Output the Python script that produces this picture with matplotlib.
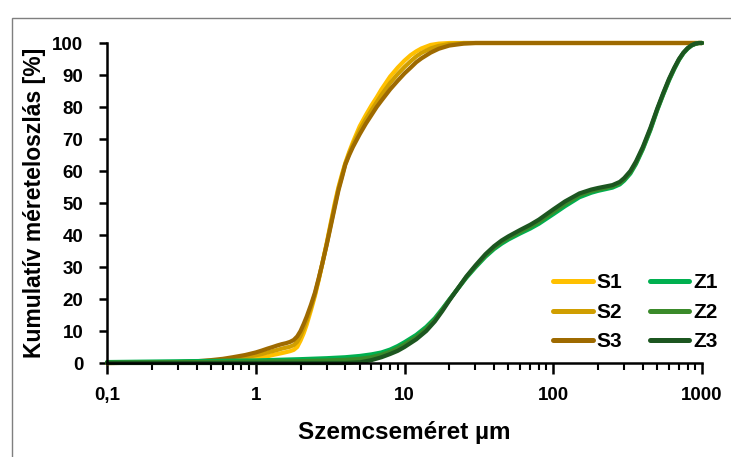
import numpy as np
import matplotlib
matplotlib.use("Agg")
import matplotlib.pyplot as plt
from matplotlib.patches import Rectangle
from matplotlib.ticker import LogLocator, FixedLocator, NullFormatter

plt.rcParams['font.family'] = ['Liberation Sans', 'DejaVu Sans']
plt.rcParams['font.weight'] = 'bold'

# particle size (um) for the S samples
S_size = [0.1, 0.15, 0.2, 0.3, 0.4, 0.5, 0.6, 0.7, 0.85, 1.0, 1.1, 1.2, 1.3, 1.4,
          1.5, 1.6, 1.7, 1.8, 1.9, 2.0, 2.1, 2.2, 2.35, 2.5, 2.65, 2.8, 3.0, 3.2,
          3.4, 3.6, 3.8, 4.0, 4.25, 4.5, 5, 5.5, 6, 6.5, 7, 8, 9, 10, 11, 12, 13,
          15, 17, 20, 25, 30, 40, 1000]
S1 = [0, 0.05, 0.1, 0.2, 0.35, 0.5, 0.7, 0.9, 1.2, 1.5, 1.8, 2.1, 2.5, 2.8,
      3.1, 3.4, 3.7, 4.1, 5, 7, 9.3, 12, 16.5, 21, 26, 31, 37.5, 44,
      50, 55, 59, 62.5, 66, 69, 74, 77.5, 80.5, 83, 85.5, 89.5, 92.3, 94.5, 96.2, 97.4, 98.3,
      99.4, 99.8, 100, 100, 100, 100, 100]
S2 = [0, 0.05, 0.1, 0.25, 0.45, 0.7, 1.0, 1.3, 1.8, 2.4, 2.8, 3.3, 3.7, 4.1,
      4.5, 4.8, 5.1, 5.6, 6.6, 8.5, 10.8, 13.2, 17.3, 21.5, 26.2, 31, 37.2, 43.5,
      49.3, 54.5, 58.5, 62.2, 65.5, 68.3, 72.8, 76.2, 79, 81.5, 83.8, 87.5, 90.3, 92.5, 94.3, 95.8, 96.9,
      98.3, 99.1, 99.7, 100, 100, 100, 100]
S3 = [0, 0.05, 0.1, 0.3, 0.55, 0.9, 1.3, 1.8, 2.5, 3.3, 3.9, 4.5, 5.0, 5.5,
      5.9, 6.2, 6.6, 7.2, 8.3, 10, 12.2, 14.5, 18.2, 22, 26.5, 31, 37, 43,
      48.7, 54, 58, 62, 65, 67.5, 71.5, 74.8, 77.5, 80, 82, 85.5, 88.2, 90.5, 92.3, 94, 95.2,
      97, 98.2, 99.2, 99.8, 100, 100, 100]

# particle size (um) for the Z samples
Z_size = [0.1, 1, 2, 3, 4, 5, 6, 7, 8, 9, 10, 12, 14, 16, 18, 20, 23, 26, 30, 35,
          40, 45, 50, 60, 70, 80, 100, 120, 150, 180, 200, 250, 280, 300, 330, 360,
          400, 450, 500, 550, 600, 650, 700, 750, 800, 850, 900, 950, 1000]
Z1 = [0.3, 0.8, 1.2, 1.5, 1.8, 2.2, 2.7, 3.3, 4.2, 5.3, 6.5, 8.8, 11.3, 14, 17, 19.8, 23.4, 26.6, 29.9, 33.2,
      35.6, 37.3, 38.6, 40.5, 42, 43.5, 46.5, 49, 51.8, 53.2, 53.8, 54.8, 55.8, 57, 59.2, 62.2,
      66.8, 72.8, 79, 84, 88.3, 91.8, 94.7, 96.8, 98.2, 99.2, 99.7, 100, 100]
Z2 = [0.15, 0.4, 0.6, 0.8, 1.0, 1.3, 1.8, 2.6, 3.5, 4.6, 5.8, 8.1, 10.7, 13.5, 16.7, 19.7, 23.5, 26.8, 30.2, 33.6,
      36, 37.8, 39.1, 41, 42.6, 44.1, 47.2, 49.7, 52.4, 53.7, 54.2, 55.2, 56.2, 57.4, 59.6, 62.6,
      67.1, 73.1, 79.2, 84.2, 88.5, 92, 94.8, 96.9, 98.3, 99.2, 99.7, 100, 100]
Z3 = [0, 0, 0, 0, 0, 0.2, 0.9, 1.8, 2.8, 3.8, 5, 7.4, 10, 13, 16.3, 19.5, 23.5, 27, 30.5, 34,
      36.5, 38.3, 39.6, 41.6, 43.2, 44.8, 48, 50.5, 53, 54.2, 54.7, 55.6, 56.6, 57.8, 60, 63,
      67.5, 73.5, 79.5, 84.5, 88.8, 92.2, 95, 97, 98.4, 99.3, 99.8, 100, 100]

series = [('S1', S_size, S1, '#FFC000'), ('S2', S_size, S2, '#D09E00'),
          ('S3', S_size, S3, '#9E6A00'), ('Z1', Z_size, Z1, '#00B050'),
          ('Z2', Z_size, Z2, '#3A8A2A'), ('Z3', Z_size, Z3, '#1C5620')]

fig = plt.figure(figsize=(7.31, 4.57), dpi=100)
fig.patches.append(Rectangle((12 / 731, -0.1), 1.2, (457 - 18) / 457 + 0.1,
                             transform=fig.transFigure, fill=False,
                             edgecolor='#7f7f7f', linewidth=1.0))
ax = fig.add_axes([107 / 731, 94 / 457, 595 / 731, 320 / 457])

for name, xs, vals, col in series:
    ax.plot(xs, vals, color=col, lw=3.0, label=name, clip_on=False,
            solid_capstyle='round', solid_joinstyle='round')

ax.set_xscale('log')
ax.set_xlim(0.1, 1000)
ax.set_ylim(0, 100)
ax.xaxis.set_major_locator(FixedLocator([0.1, 1, 10, 100, 1000]))
ax.set_xticklabels(['0,1', '1', '10', '100', '1000'])
ax.xaxis.set_minor_locator(LogLocator(base=10, subs=np.arange(2, 10), numticks=20))
ax.xaxis.set_minor_formatter(NullFormatter())
ax.set_yticks(range(0, 101, 10))

for s in ['top', 'right']:
    ax.spines[s].set_visible(False)
for s in ['left', 'bottom']:
    ax.spines[s].set_linewidth(1.8)

ax.tick_params(axis='x', which='major', direction='out', length=8, width=1.8, pad=9)
ax.tick_params(axis='x', which='minor', direction='out', length=5, width=1.5)
ax.tick_params(axis='y', which='major', direction='out', length=6, width=1.8, pad=11)
plt.setp(ax.get_xticklabels() + ax.get_yticklabels(), fontsize=13.5, fontweight='bold',
         family=['Liberation Sans', 'DejaVu Sans'])

ax.set_xlabel('Szemcseméret µm', fontsize=17.5, fontweight='bold')
ax.set_ylabel('Kumulatív méreteloszlás [%]', fontsize=16.5, fontweight='bold')
ax.xaxis.set_label_coords(0.5, -0.18)
ax.yaxis.set_label_coords(-0.102, 0.5)

leg = ax.legend(loc='upper left', ncol=2, frameon=False, fontsize=15,
                handlelength=1.9, handletextpad=0.2, columnspacing=1.3,
                labelspacing=0.5, borderpad=0, borderaxespad=0,
                bbox_to_anchor=(0.7496, 0.28))
for h in leg.get_lines():
    h.set_linewidth(3.6)

fig.savefig('out.png', dpi=100)
